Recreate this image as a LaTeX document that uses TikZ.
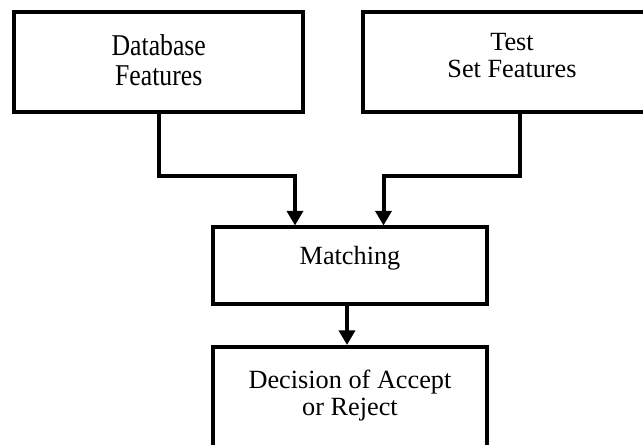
\documentclass[tikz,border=0pt]{standalone}
\usepackage{fontspec}
\usepackage{graphicx}
\setmainfont{Liberation Serif}
\usetikzlibrary{arrows.meta}
\tikzset{
  box/.style={draw, line width=3pt, rectangle, align=center, inner sep=0pt,
    font=\fontsize{19.7pt}{20.5pt}\selectfont},
  flow/.style={line width=3pt, -{Triangle[width=12pt,length=11pt]}}
}
\begin{document}
\begin{tikzpicture}[x=0.75pt, y=-0.75pt]
  \useasboundingbox (0,0) rectangle (643,445);
  \clip (0,0) rectangle (643,445);

  % feature sources (the database label is set slightly taller)
  \node[box, minimum width=217.1pt, minimum height=75pt, text depth=26.25pt]
    (db) at (158.75,62)
    {\scalebox{0.98}[1.15]{\fontsize{19.7pt}{19.6pt}\selectfont
      \begin{tabular}[t]{@{}c@{}}Database\\Features\end{tabular}}};
  \node[box, minimum width=223.5pt, minimum height=75pt, text depth=9.7pt]
    (ts) at (512,62) {Test\\Set Features};

  % matching and decision stages
  \node[box, minimum width=205.5pt, minimum height=57.75pt, text depth=16.4pt]
    (match) at (350,266) {Matching};
  \node[box, minimum width=205.5pt, minimum height=88.5pt, text depth=20.2pt]
    (dec) at (350,406) {Decision of Accept\\or Reject};

  % elbow points of the two feeds
  \coordinate (j1) at (295,176);
  \coordinate (j2) at (383.5,176);

  \draw[flow] (db.south) |- (j1) -- (j1 |- match.north);
  \draw[flow] (ts.south -| 520,0) |- (j2) -- (j2 |- match.north);
  \draw[flow] ([xshift=-2.25pt]match.south) -- ([xshift=-2.25pt]dec.north);
\end{tikzpicture}
\end{document}
